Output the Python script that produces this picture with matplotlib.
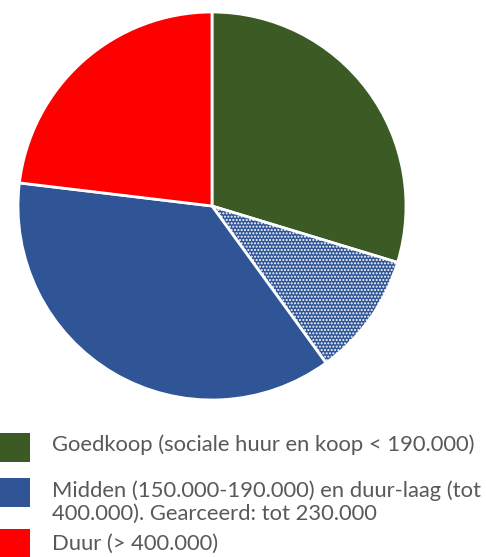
import matplotlib.pyplot as plt
from matplotlib.patches import Rectangle

plt.rcParams['font.family'] = ['Lato', 'DejaVu Sans']
plt.rcParams['hatch.linewidth'] = 1.0

# slices, clockwise from the top
slice_values = [29.7, 10.3, 36.9, 23.1]
slice_colors = ['#3B5A24', '#2F5597', '#2F5597', '#FF0000']
slice_hatches = [None, '.....', None, None]

legend_labels = ['Goedkoop (sociale huur en koop < 190.000)',
                 'Midden (150.000-190.000) en duur-laag (tot\n400.000). Gearceerd: tot 230.000',
                 'Duur (> 400.000)']
legend_colors = ['#3B5A24', '#2F5597', '#FF0000']

W, H = 486, 557
fig = plt.figure(figsize=(W / 100, H / 100), dpi=100)

cx, cy, r = 212, 206, 194
ax = fig.add_axes([(cx - r) / W, 1 - (cy + r) / H, 2 * r / W, 2 * r / H])
wedges, _ = ax.pie(slice_values, colors=slice_colors, startangle=90,
                   counterclock=False, radius=1,
                   wedgeprops=dict(edgecolor='white', linewidth=2))
for w, h in zip(wedges, slice_hatches):
    w.set_clip_on(False)
    if h:
        w.set_hatch(h)
ax.set_xlim(-1, 1)
ax.set_ylim(-1, 1)
ax.set_aspect('equal')
ax.axis('off')

# legend drawn by hand: swatch top (px) and text centre (px)
swatch_tops = [433, 478, 529]
text_centres = [445, 502, 544]
for lab, col, top, tc in zip(legend_labels, legend_colors, swatch_tops, text_centres):
    fig.add_artist(Rectangle((0, 1 - (top + 29) / H), 30 / W, 29 / H,
                             transform=fig.transFigure, facecolor=col,
                             edgecolor='none'))
    fig.text(52 / W, 1 - tc / H, lab, fontsize=15.8, color='#595959',
             va='center', ha='left', linespacing=1.2)

fig.savefig('out.png', dpi=100)
